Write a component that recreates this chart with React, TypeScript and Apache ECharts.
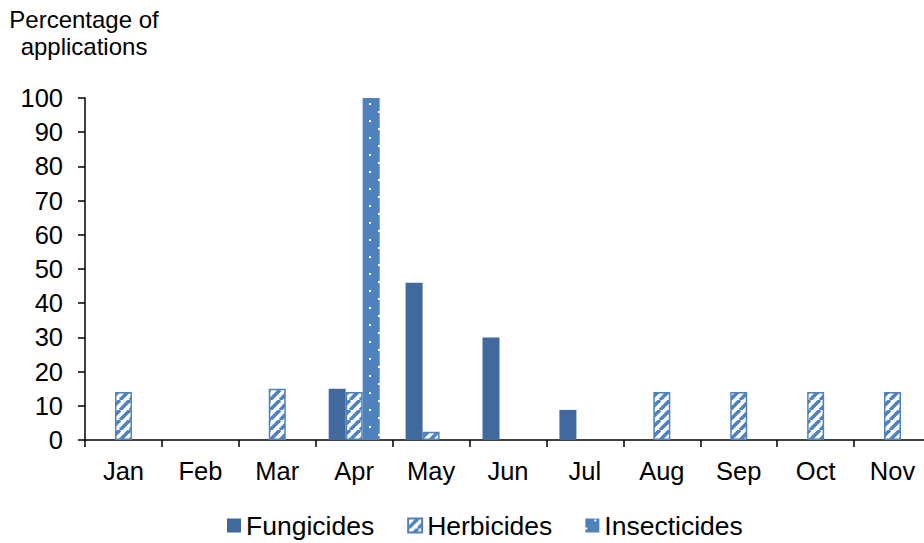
import React, { useEffect, useRef } from 'react';
import * as echarts from 'echarts';

// Monthly share of pesticide applications (%)
const months = ['Jan', 'Feb', 'Mar', 'Apr', 'May', 'Jun', 'Jul', 'Aug', 'Sep', 'Oct', 'Nov'];
const fungicides: (number | string)[] = ['-', '-', '-', 15, 46, 30, 8.8, '-', '-', '-', '-'];
const herbicides: (number | string)[] = [14, '-', 15, 14, 2.4, '-', '-', 14, 14, 14, 14];
const insecticides: (number | string)[] = ['-', '-', '-', 100, '-', '-', '-', '-', '-', '-', '-'];
const seriesNames = ['Fungicides', 'Herbicides', 'Insecticides'];
const yAxisTitle = 'Percentage of\napplications';

const FONT = '"Liberation Sans", Arial, sans-serif';
const DARK_BLUE = '#41699D';
const BLUE = '#4F81BD';

// white background with blue "/" diagonal stripes
function stripeTile(): HTMLCanvasElement {
  const s = 10;
  const c = document.createElement('canvas');
  c.width = s;
  c.height = s;
  const ctx = c.getContext('2d')!;
  ctx.fillStyle = '#ffffff';
  ctx.fillRect(0, 0, s, s);
  ctx.strokeStyle = BLUE;
  ctx.lineWidth = 3.6;
  for (const o of [-s, 0, s]) {
    ctx.beginPath();
    ctx.moveTo(o, s);
    ctx.lineTo(o + s, 0);
    ctx.stroke();
  }
  return c;
}

// blue background with staggered white dots
function dotTile(): HTMLCanvasElement {
  const w = 18;
  const h = 17;
  const c = document.createElement('canvas');
  c.width = w;
  c.height = h;
  const ctx = c.getContext('2d')!;
  ctx.fillStyle = BLUE;
  ctx.fillRect(0, 0, w, h);
  ctx.fillStyle = '#ffffff';
  ctx.fillRect(9, 1, 2, 2);
  ctx.fillRect(0, 9, 2, 2);
  return c;
}

export default function App() {
  const ref = useRef<HTMLDivElement>(null);

  useEffect(() => {
    if (!ref.current) return;
    const chart = echarts.init(ref.current, null, { renderer: 'svg' });
    const stripes = stripeTile();
    const dots = dotTile();

    chart.setOption({
      animation: false,
      backgroundColor: '#ffffff',
      textStyle: { fontFamily: FONT, color: '#000' },
      grid: { left: 85, right: 0, top: 98, bottom: 103, containLabel: false },
      graphic: [
        {
          type: 'text',
          x: 84,
          y: 6,
          style: {
            text: yAxisTitle,
            textAlign: 'center',
            fontFamily: FONT,
            fontSize: 24,
            lineHeight: 27,
            fill: '#000',
          },
        },
      ],
      legend: {
        data: seriesNames,
        left: 227,
        top: 512,
        padding: 0,
        itemWidth: 14,
        itemHeight: 14,
        itemGap: 33,
        icon: 'rect',
        textStyle: { fontFamily: FONT, fontSize: 26.5, color: '#000' },
      },
      xAxis: {
        type: 'category',
        data: months,
        axisLine: { lineStyle: { color: '#000', width: 1.5 } },
        axisTick: { show: true, length: 7, lineStyle: { color: '#000', width: 1.5 } },
        axisLabel: { color: '#000', fontFamily: FONT, fontSize: 25.5, margin: 18 },
        splitLine: { show: false },
      },
      yAxis: {
        type: 'value',
        min: 0,
        max: 100,
        interval: 10,
        axisLine: { show: true, lineStyle: { color: '#000', width: 1.5 } },
        axisTick: { show: true, length: 7, lineStyle: { color: '#000', width: 1.5 } },
        axisLabel: { color: '#000', fontFamily: FONT, fontSize: 25.5, margin: 22 },
        splitLine: { show: false },
      },
      series: [
        {
          name: seriesNames[0],
          type: 'bar',
          data: fungicides,
          barWidth: 17,
          barGap: '0%',
          itemStyle: { color: DARK_BLUE },
        },
        {
          name: seriesNames[1],
          type: 'bar',
          data: herbicides,
          barWidth: 17,
          barGap: '0%',
          itemStyle: {
            color: { image: stripes, repeat: 'repeat', imageWidth: 10, imageHeight: 10 },
            borderColor: BLUE,
            borderWidth: 1.5,
          },
        },
        {
          name: seriesNames[2],
          type: 'bar',
          data: insecticides,
          barWidth: 17,
          barGap: '0%',
          itemStyle: {
            color: { image: dots, repeat: 'repeat', imageWidth: 18, imageHeight: 17 },
          },
        },
      ],
    });

    return () => chart.dispose();
  }, []);

  // The plot area runs a few pixels past the right edge of the visible frame.
  return (
    <div
      style={{
        position: 'absolute',
        left: 0,
        top: 0,
        width: 924,
        height: 543,
        overflow: 'hidden',
        background: '#ffffff',
      }}
    >
      <div ref={ref} style={{ width: 931, height: 543 }} />
    </div>
  );
}
